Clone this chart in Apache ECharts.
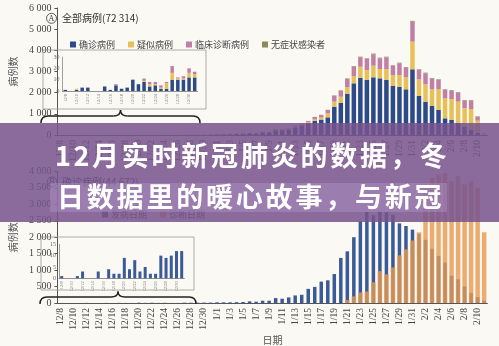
<!DOCTYPE html>
<html><head><meta charset="utf-8">
<script src="https://cdn.jsdelivr.net/npm/echarts@6/dist/echarts.min.js"></script>
<style>html,body{margin:0;padding:0;background:#fbf9f4;}#c{width:499px;height:346px;}</style>
</head><body><div id="c"></div><script>
// ---- categories ----
const dates = ['12/8','12/9','12/10','12/11','12/12','12/13','12/14','12/15','12/16','12/17','12/18','12/19','12/20','12/21','12/22','12/23','12/24','12/25','12/26','12/27','12/28','12/29','12/30','12/31',
'1/1','1/2','1/3','1/4','1/5','1/6','1/7','1/8','1/9','1/10','1/11','1/12','1/13','1/14','1/15','1/16','1/17','1/18','1/19','1/20','1/21','1/22','1/23','1/24','1/25','1/26','1/27','1/28','1/29','1/30','1/31',
'2/1','2/2','2/3','2/4','2/5','2/6','2/7','2/8','2/9','2/10','2/11'];
const decDates = dates.slice(0, 24);

// ---- Panel A (all cases), December inset ----
const confirmedDecA = [1,0,1,3,3,0,0,4,1,5,2,3,10,6,8,4,5,2,2,10,10,10,12,12];
const suspectedDecA = [0,0,1,0,0,0,0,0,0,0,0,0,0,0,1,2,1,1,5,6,1,1,4,3];
const clinicalDecA  = [0,0,0,0,0,0,0,0,0,1,0,0,0,0,2,2,2,2,1,6,1,2,4,2];
// ---- Panel A, 1/1 .. 2/11 ----
const confirmedA = [32,36,40,48,56,80,72,128,120,224,224,256,360,450,560,660,730,835,1337,1526,1937,2442,2707,2598,2726,2679,2598,2315,2282,2159,3104,1842,1573,1370,1181,789,709,567,378,236,95,10];
const suspectedA = [3,4,4,5,6,8,7,13,12,22,22,26,35,40,40,80,95,180,236,283,317,345,520,472,548,439,520,520,553,567,1304,789,822,789,978,945,992,1006,883,992,581,50];
const clinicalA  = [5,5,6,7,8,12,11,19,18,34,34,38,55,50,60,110,120,165,284,284,391,440,443,520,538,505,552,425,552,453,944,440,520,501,439,392,392,425,359,392,188,20];
const asymptomaticA = [0,0,0,0,0,0,0,0,0,0,0,0,0,0,5,5,8,10,15,20,25,30,30,30,35,30,30,30,30,30,40,30,30,30,30,30,30,30,30,30,20,5];

// ---- Panel B (confirmed cases) ----
const onsetDecB = [1,0,0,1,3,0,0,3,0,4,2,2,9,4,8,3,5,2,2,10,9,10,12,12];
const onsetB = [20,20,20,25,30,50,40,70,70,150,130,170,230,250,430,490,650,690,880,1370,1570,2000,2480,2770,2670,2780,2760,2680,2420,2340,2230,2100,1920,1650,1430,1230,830,720,500,300,180,70];
const diagnosisB = [0,0,0,0,0,0,0,0,0,0,0,0,0,0,0,0,0,0,0,0,90,200,320,350,630,970,870,1080,1450,1630,1900,2150,3600,3800,3900,3950,3700,3850,3600,3700,3500,2150];

// ---- text ----
const titleA = '全部病例(72 314)';
const titleB = '确诊病例(44 672)';
const legendA = ['确诊病例','疑似病例','临床诊断病例','无症状感染者'];
const legendB = ['发病日期','诊断日期'];
const bannerLines = ['12月实时新冠肺炎的数据，冬','日数据里的暖心故事，与新冠'];

const zeros = n => new Array(n).fill(0);
const serif = "'Liberation Serif','Noto Sans CJK SC',serif";
const cjk = "'Noto Sans CJK SC','Liberation Serif',sans-serif";
const fmt = v => v >= 1000 ? String(v).replace(/(\d)(\d{3})$/, '$1 $2') : String(v);
const C = {blue:'#2c4a87', yellow:'#e6c15a', pink:'#c27fa5', olive:'#8a8a5a', blueB:'#3a5a98', orange:'#e8984f'};
const axisCol = '#555', labCol = '#444';

function mainX(gi, show) {
  return {type:'category', gridIndex:gi, data:dates, show:show,
    axisLine:{lineStyle:{color:axisCol, width:1}}, axisTick:{show:false},
    axisLabel:{rotate:90, interval:1, fontSize:9.5, color:labCol, fontFamily:serif, margin:5}};
}
function insetX(gi) {
  return {type:'category', gridIndex:gi, data:decDates,
    axisLine:{lineStyle:{color:'#777', width:0.8}}, axisTick:{show:false},
    axisLabel:{rotate:90, interval:1, fontSize:4.5, color:'#777', fontFamily:serif, margin:3}};
}
function yAx(gi, max, interval, opts) {
  return Object.assign({type:'value', gridIndex:gi, min:0, max:max, interval:interval, splitLine:{show:false},
    axisLine:{show:true, lineStyle:{color:axisCol}}, axisTick:{show:true, length:3, lineStyle:{color:axisCol}},
    axisLabel:{fontSize:10, color:labCol, fontFamily:serif, margin:6, formatter:fmt}}, opts||{});
}
// curly brace made of line + quadratic curve pieces
function brace(x1, x2, y, peakY, endY) {
  const m = (x1 + x2) / 2, r = 7, st = {fill:'none', stroke:'#222', lineWidth:1.5};
  return [
    {type:'bezierCurve', z:10, shape:{x1:x1,y1:endY,x2:x1+r,y2:y,cpx1:x1,cpy1:y}, style:st},
    {type:'line', z:10, shape:{x1:x1+r,y1:y,x2:m-r,y2:y}, style:st},
    {type:'bezierCurve', z:10, shape:{x1:m-r,y1:y,x2:m,y2:peakY,cpx1:m,cpy1:y}, style:st},
    {type:'bezierCurve', z:10, shape:{x1:m,y1:peakY,x2:m+r,y2:y,cpx1:m,cpy1:y}, style:st},
    {type:'line', z:10, shape:{x1:m+r,y1:y,x2:x2-r,y2:y}, style:st},
    {type:'bezierCurve', z:10, shape:{x1:x2-r,y1:y,x2:x2,y2:endY,cpx1:x2,cpy1:y}, style:st}
  ];
}

// banner characters with letter spacing
const bannerEls = [];
bannerEls.push({type:'rect', z:100, shape:{x:0,y:123,width:499,height:99}, style:{fill:'rgba(119,84,141,0.86)'}});
bannerEls.push({type:'rect', z:101, shape:{x:50,y:183,width:397,height:29}, style:{fill:'rgba(185,160,215,0.35)'}});
const fs = 27, sp = 2.8;
[[55,156],[57,197]].forEach((p, li) => {
  let x = p[0];
  for (const ch of bannerLines[li]) {
    const w = /[\x00-\x7f]/.test(ch) ? fs*0.58 : fs;
    bannerEls.push({type:'text', z:102, x:x, y:p[1], style:{text:ch, fill:'#fff', fontSize:fs, fontWeight:'bold', fontFamily:cjk, textVerticalAlign:'middle', textAlign:'left'}});
    x += w + sp;
  }
});

const option = {
  backgroundColor:'#fbf9f4',
  animation:false,
  grid:[
    {left:40.6, width:446.8, top:8, height:127},
    {left:62.5, width:135, top:57, height:34},
    {left:40.6, width:446.8, top:171.4, height:133.6},
    {left:59.1, width:125.2, top:244.3, height:34}
  ],
  xAxis:[ mainX(0,true), insetX(1), mainX(2,true),
    {type:'category', gridIndex:2, data:dates, show:false}, insetX(3) ],
  yAxis:[
    yAx(0, 6000, 1000, {name:'病例数', nameLocation:'middle', nameRotate:90, nameGap:31, nameTextStyle:{fontSize:10, color:'#555', fontFamily:cjk}}),
    yAx(1, 30, 10, {axisLine:{show:true, lineStyle:{color:'#888', width:0.8}}, axisTick:{show:false}, axisLabel:{fontSize:6, color:'#666', fontFamily:serif, margin:3}}),
    yAx(2, 4000, 500, {name:'病例数', nameLocation:'middle', nameRotate:90, nameGap:31, nameTextStyle:{fontSize:10, color:'#555', fontFamily:cjk}}),
    yAx(3, 15, 5, {axisLine:{show:true, lineStyle:{color:'#888', width:0.8}}, axisTick:{show:false}, axisLabel:{fontSize:6, color:'#666', fontFamily:serif, margin:3}})
  ],
  legend:[
    {data:legendA, left:65, top:35, itemWidth:6, itemHeight:6, itemGap:13, icon:'rect', textStyle:{fontSize:9, color:'#444', fontFamily:cjk, padding:[0,0,0,-2]}},
    {data:legendB, left:97, top:205, itemWidth:6, itemHeight:6, itemGap:13, icon:'rect', textStyle:{fontSize:9, color:'#444', fontFamily:cjk, padding:[0,0,0,-2]}}
  ],
  series:[
    {name:legendA[0], type:'bar', stack:'a', xAxisIndex:0, yAxisIndex:0, barWidth:4.5, itemStyle:{color:C.blue}, data:confirmedDecA.concat(confirmedA)},
    {name:legendA[1], type:'bar', stack:'a', xAxisIndex:0, yAxisIndex:0, barWidth:4.5, itemStyle:{color:C.yellow}, data:suspectedDecA.concat(suspectedA)},
    {name:legendA[2], type:'bar', stack:'a', xAxisIndex:0, yAxisIndex:0, barWidth:4.5, itemStyle:{color:C.pink}, data:clinicalDecA.concat(clinicalA)},
    {name:legendA[3], type:'bar', stack:'a', xAxisIndex:0, yAxisIndex:0, barWidth:4.5, itemStyle:{color:C.olive}, data:zeros(24).concat(asymptomaticA)},
    {name:legendA[0], type:'bar', stack:'b', xAxisIndex:1, yAxisIndex:1, barWidth:3.5, itemStyle:{color:C.blue}, data:confirmedDecA},
    {name:legendA[1], type:'bar', stack:'b', xAxisIndex:1, yAxisIndex:1, barWidth:3.5, itemStyle:{color:C.yellow}, data:suspectedDecA},
    {name:legendA[2], type:'bar', stack:'b', xAxisIndex:1, yAxisIndex:1, barWidth:3.5, itemStyle:{color:C.pink}, data:clinicalDecA},
    {name:legendB[0], type:'bar', xAxisIndex:2, yAxisIndex:2, barWidth:3.5, itemStyle:{color:C.blueB}, data:onsetDecB.concat(onsetB)},
    {name:legendB[1], type:'bar', xAxisIndex:3, yAxisIndex:2, barWidth:4.5, itemStyle:{color:C.orange, opacity:0.8}, data:zeros(24).concat(diagnosisB)},
    {name:legendB[0], type:'bar', xAxisIndex:4, yAxisIndex:3, barWidth:3, itemStyle:{color:C.blueB}, data:onsetDecB}
  ],
  graphic:[
    {type:'rect', z:10, shape:{x:43,y:50,width:163,height:59}, style:{fill:'none', stroke:'#999', lineWidth:0.8}},
    {type:'rect', z:10, shape:{x:41,y:237,width:153,height:53}, style:{fill:'none', stroke:'#999', lineWidth:0.8}},
    {type:'circle', z:10, shape:{cx:51.5,cy:18.3,r:5}, style:{fill:'none', stroke:'#333', lineWidth:0.8}},
    {type:'text', z:10, x:51.5, y:18.6, style:{text:'A', fontSize:8, fill:'#333', fontFamily:serif, textAlign:'center', textVerticalAlign:'middle'}},
    {type:'text', z:10, x:62, y:18.5, style:{text:titleA, fontSize:10, fill:'#333', fontFamily:cjk, textVerticalAlign:'middle'}},
    {type:'circle', z:10, shape:{cx:52,cy:182,r:5}, style:{fill:'none', stroke:'#333', lineWidth:0.8}},
    {type:'text', z:10, x:52, y:182.3, style:{text:'B', fontSize:8, fill:'#333', fontFamily:serif, textAlign:'center', textVerticalAlign:'middle'}},
    {type:'text', z:10, x:62, y:182, style:{text:titleB, fontSize:10, fill:'#333', fontFamily:cjk, textVerticalAlign:'middle'}}
  ].concat(brace(41, 200, 116, 110, 123), brace(40, 196, 297, 291.5, 304), bannerEls)
};
// x-axis name for bottom panel
option.xAxis[2].name = '日期';
option.xAxis[2].nameLocation = 'middle';
option.xAxis[2].nameGap = 32;
option.xAxis[2].nameTextStyle = {fontSize:10, color:'#555', fontFamily:cjk};

const chart = echarts.init(document.getElementById('c'));
chart.setOption(option);
</script></body></html>
